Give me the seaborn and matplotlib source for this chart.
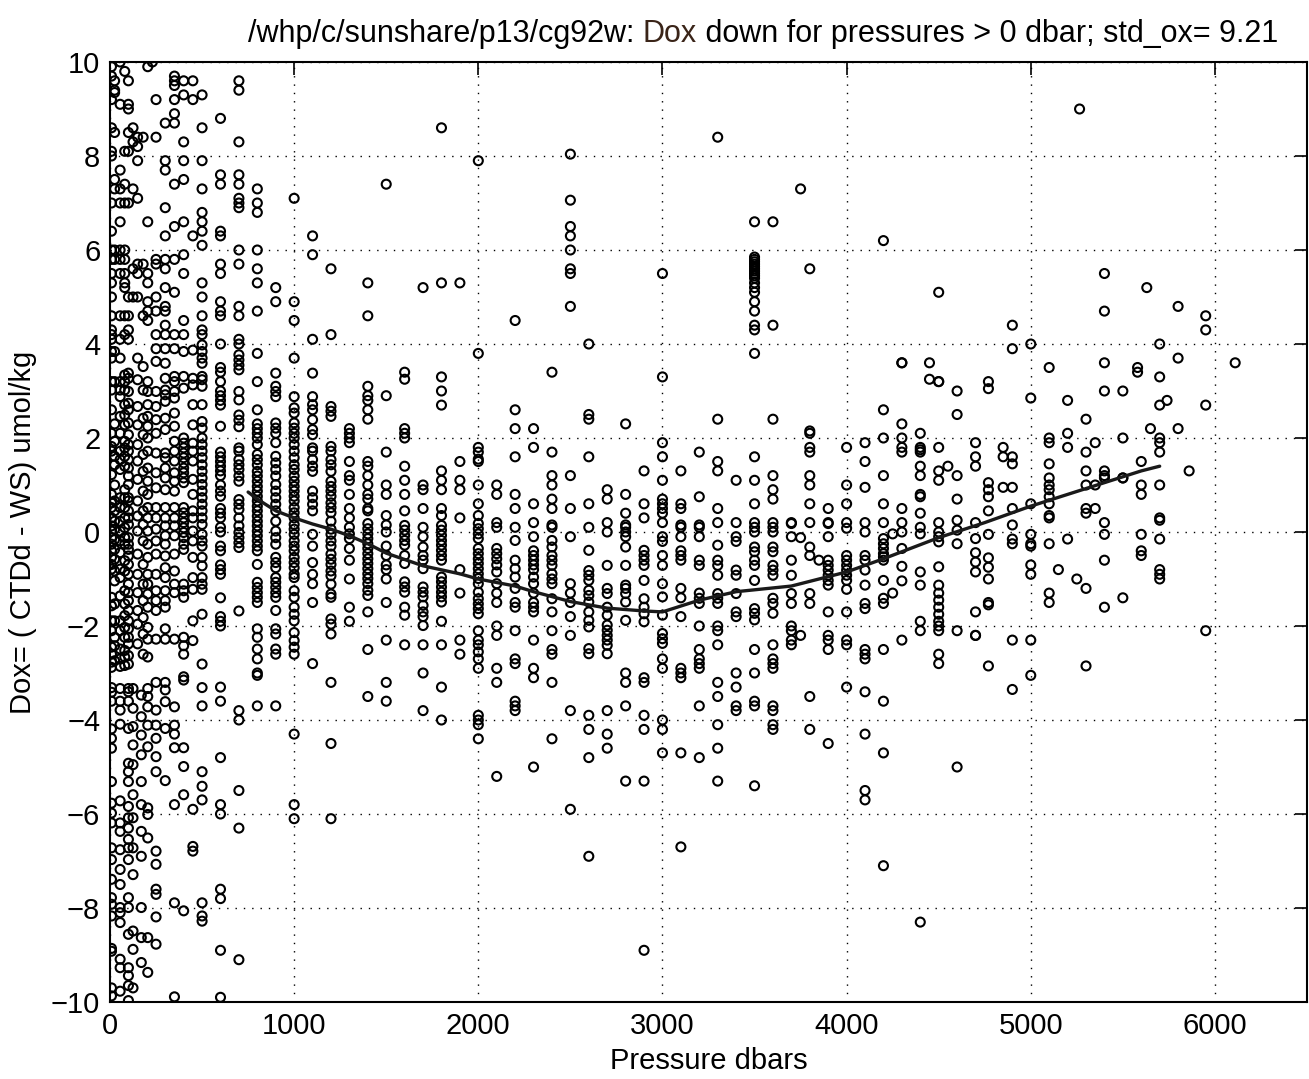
import numpy as np
import pandas as pd
import matplotlib
matplotlib.use("Agg")
import matplotlib.pyplot as plt
import seaborn as sns

# ---------------- data ----------------
dox_p8 = [9.9, 9.7, 9.2, 8.6, 8.1, 8.0, 7.0, 6.4, 6.0, 5.8, 5.5, 5.3, 5.0, 4.6, 4.3, 4.2, 4.1, 3.84, 3.7, 3.2, 3.02, 2.6, 2.1, 1.82, 1.72, 1.22, 0.8, 0.62, 0.52, 0.3, 0.13, 0.02, -0.12, -0.26, -0.4, -0.54, -0.69, -0.79, -1.39, -1.57, -1.89, -2.1, -2.45, -2.6, -2.77, -2.88, -3.31, -3.41, -3.6, -4.19, -4.39, -4.6, -5.31, -5.77, -5.98, -6.19, -6.72, -6.97, -7.39, -7.78, -7.92, -8.17, -8.86, -8.92, -9.7, -9.87]
dox_p25 = [9.6, 9.4, 9.35, 8.5, 7.5, 7.3, 6.0, 5.8, 3.84, 3.2, 2.3, 1.93, 1.61, 1.43, 1.0, 0.66, 0.45, 0.23, 0.06, -0.16, -0.37, -0.58, -0.83, -1.04, -1.53, -1.89, -2.24, -2.42, -2.74]
dox_p55 = [10.0, 9.1, 7.7, 7.3, 7.0, 6.6, 6.0, 5.8, 5.5, 4.6, 4.1, 3.7, 3.2, 3.02, 2.88, 2.46, 2.1, 1.72, 1.54, 1.33, 0.73, 0.52, 0.23, 0.02, -0.19, -0.44, -0.79, -0.97, -1.36, -1.89, -2.1, -2.49, -2.7, -2.86, -3.33, -3.6, -3.79, -4.09, -5.72, -6.19, -6.37, -6.76, -7.18, -7.5, -7.99, -8.1, -8.31, -9.09, -9.27, -9.77]
dox_p80 = [9.8, 8.1, 7.4, 7.0, 6.0, 5.8, 5.5, 5.3, 5.2, 4.6, 4.2, 3.34, 3.2, 3.02, 2.71, 2.49, 2.28, 1.93, 1.79, 1.61, 1.4, 0.9, 0.73, 0.52, 0.3, 0.09, -0.12, -0.26, -0.61, -0.83, -1.25, -1.53, -1.78, -2.03, -2.24, -2.52, -2.66, -2.84]
dox_p100 = [9.6, 9.1, 9.0, 8.5, 8.1, 7.0, 5.0, 4.6, 4.3, 4.1, 3.38, 3.27, 2.99, 2.74, 2.6, 2.32, 2.07, 1.86, 1.72, 1.54, 1.36, 1.19, 1.01, 0.73, 0.66, 0.45, 0.3, 0.16, -0.12, -0.26, -0.37, -0.51, -0.69, -0.9, -1.11, -1.29, -1.46, -1.67, -1.89, -2.06, -2.24, -2.38, -2.63, -2.81, -3.33, -3.4, -3.6, -4.18, -4.92, -5.1, -5.31, -5.84, -6.08, -6.3, -6.54, -6.72, -6.97, -7.78, -7.99, -8.56, -9.27, -9.44, -9.65, -9.97]
dox_p125 = [8.6, 8.3, 7.3, 5.6, 5.0, -3.33, -3.75, -4.14, -4.53, -4.95, -5.59, -6.08, -6.72, -7.29, -8.49, -8.88, -9.7]
dox_p150 = [8.4, 8.2, 7.9, 7.1, 5.7, 5.5, 5.0, 3.7, 3.24, 2.67, 2.28, 1.86, 1.51, 1.12, 0.66, 0.34, 0.02, -0.47, -0.9, -1.29, -1.67, -1.96, -2.38]
dox_p170 = [-3.47, -3.93, -4.32, -4.74, -5.31, -5.8, -6.37, -6.9, -7.99, -8.63, -9.16]
dox_p180 = [8.4, 5.7, 4.6, 3.52, 3.02, 2.42, 2.07, 1.65, 1.29, 0.87, 0.45, 0.16, -0.19, -0.69, -1.11, -1.46, -1.82, -2.17, -2.6]
dox_p205 = [9.9, 6.6, 5.5, 5.3, 4.9, 4.7, 4.5, 3.2, 2.99, 2.71, 2.46, 2.25, 2.0, 1.72, 1.36, 1.08, 0.8, 0.52, 0.3, 0.02, -0.26, -0.54, -0.9, -1.11, -1.32, -1.6, -2.03, -2.28, -2.66, -3.33, -3.5, -3.72, -4.11, -4.57, -5.87, -6.01, -6.51, -8.63, -9.37]
dox_p230 = [10.0]
dox_p250 = [9.2, 8.4, 5.8, 5.7, 5.0, 4.7, 4.2, 3.9, 3.63, 2.99, 2.67, 2.39, 2.1, 1.68, 1.26, 0.94, 0.52, 0.3, 0.06, -0.19, -0.47, -0.9, -1.25, -1.46, -1.67, -2.28, -3.2, -3.79, -4.11, -4.39, -4.78, -5.1, -6.79, -7.07, -7.6, -7.71, -8.19, -8.77]
dox_p300 = [8.7, 7.9, 7.7, 6.9, 6.3, 5.8, 5.6, 5.2, 4.8, 4.7, 4.4, 4.2, 3.9, 3.59, 3.27, 3.02, 2.92, 2.78, 2.42, 2.18, 1.68, 1.58, 1.36, 1.15, 0.9, 0.52, 0.3, 0.13, -0.08, -0.26, -0.51, -0.76, -0.97, -1.25, -1.46, -1.6, -2.06, -2.28, -3.2, -3.36, -3.61, -4.18, -5.29]
dox_p350 = [9.7, 9.6, 9.5, 9.2, 8.9, 8.7, 7.4, 6.5, 5.8, 5.1, 4.2, 3.9, 3.31, 3.2, 2.99, 2.85, 2.53, 2.25, 1.93, 1.72, 1.51, 1.26, 1.08, 0.87, 0.52, 0.3, 0.13, -0.08, -0.47, -0.83, -1.11, -1.29, -2.28, -3.72, -4.11, -4.3, -4.59, -5.8, -7.89, -9.89]
dox_p400 = [9.6, 9.3, 8.3, 7.9, 7.5, 6.6, 5.9, 5.5, 4.5, 4.2, 3.84, 3.31, 3.06, 2.0, 1.89, 1.79, 1.68, 1.58, 1.47, 1.36, 1.26, 1.15, 1.05, 0.52, 0.41, 0.3, 0.2, 0.09, -0.01, -0.12, -0.26, -0.37, -1.11, -1.25, -1.39, -2.24, -2.42, -2.6, -3.08, -3.15, -4.59, -4.99, -5.59, -8.06]
dox_p450 = [9.6, 9.2, 6.3, 3.87, 3.27, 3.13, 2.71, 2.28, 1.89, 1.72, 1.51, 1.12, 0.8, 0.45, 0.3, 0.02, -0.19, -0.54, -0.97, -1.22, -1.89, -2.31, -5.9, -6.69, -6.79]
dox_p500 = [9.3, 8.6, 7.9, 7.3, 6.8, 6.6, 6.4, 6.1, 5.3, 5.0, 4.6, 4.3, 4.2, 3.98, 3.84, 3.7, 3.59, 3.31, 3.24, 3.1, 2.71, 2.35, 2.21, 2.0, 1.86, 1.72, 1.58, 1.43, 1.29, 1.15, 1.01, 0.87, 0.73, 0.59, 0.45, 0.3, 0.16, -0.05, -0.19, -0.3, -0.54, -0.72, -0.97, -1.11, -1.22, -1.75, -2.81, -3.31, -3.7, -5.1, -5.41, -5.7, -7.89, -8.17, -8.28]
dox_p600 = [8.8, 7.6, 7.4, 6.4, 6.3, 5.7, 5.5, 4.9, 4.7, 4.6, 4.0, 3.5, 3.4, 3.2, 3.0, 2.9, 2.8, 2.7, 2.25, 1.7, 1.6, 1.5, 1.4, 1.3, 1.2, 1.0, 0.87, 0.76, 0.5, 0.4, 0.3, 0.1, 0.0, -0.3, -0.4, -0.7, -0.8, -0.9, -1.4, -1.8, -1.9, -2.0, -3.3, -3.6, -4.8, -5.8, -6.0, -7.6, -7.8, -8.9, -9.9]
dox_p700 = [9.6, 9.4, 8.3, 7.6, 7.4, 7.1, 7.0, 6.9, 6.0, 5.7, 4.8, 4.6, 4.1, 4.0, 3.77, 3.66, 3.55, 3.45, 2.99, 2.81, 2.49, 2.38, 2.24, 1.79, 1.72, 1.54, 1.43, 1.33, 1.19, 1.08, 0.69, 0.59, 0.48, 0.3, 0.13, -0.01, -0.12, -0.23, -0.33, -1.68, -3.8, -4.0, -5.5, -6.3, -9.1]
dox_p800 = [7.3, 7.0, 6.8, 6.0, 5.6, 5.3, 4.7, 3.8, 3.2, 2.6, 2.3, 2.2, 2.1, 2.0, 1.86, 1.65, 1.54, 1.43, 1.29, 1.19, 1.08, 0.97, 0.87, 0.76, 0.66, 0.55, 0.45, 0.34, 0.23, 0.13, 0.02, -0.08, -0.19, -0.3, -0.4, -0.69, -1.07, -1.18, -1.29, -1.39, -1.5, -2.06, -2.24, -2.49, -2.7, -3.0, -3.05, -3.7]
dox_p900 = [5.2, 4.9, 3.38, 3.1, 2.99, 2.88, 2.32, 2.21, 2.1, 1.9, 1.61, 1.47, 1.33, 1.19, 1.01, 0.87, 0.73, 0.59, 0.45, 0.23, 0.02, -0.12, -0.26, -0.54, -0.65, -0.76, -0.97, -1.07, -1.18, -1.29, -1.39, -1.67, -2.06, -2.17, -2.49, -2.6, -3.7]
dox_p1000 = [7.1, 4.9, 4.5, 3.7, 2.88, 2.64, 2.53, 2.32, 2.21, 2.1, 2.0, 1.86, 1.72, 1.58, 1.43, 1.33, 1.19, 1.08, 0.97, 0.87, 0.76, 0.66, 0.52, 0.41, 0.3, 0.16, 0.06, -0.05, -0.19, -0.3, -0.4, -0.54, -0.65, -0.76, -0.9, -0.97, -1.25, -1.39, -1.6, -1.75, -1.89, -2.14, -2.31, -2.45, -2.6, -4.3, -5.8, -6.1]
dox_p1100 = [6.3, 5.9, 4.1, 3.38, 2.88, 2.71, 2.6, 2.39, 2.18, 2.07, 1.79, 1.72, 1.54, 1.4, 1.29, 0.87, 0.73, 0.59, 0.45, -0.05, -0.3, -0.65, -0.9, -1.1, -1.5, -2.8]
dox_p1200 = [5.6, 4.2, 2.67, 2.57, 2.46, 1.82, 1.72, 1.54, 1.43, 1.29, 1.08, 0.97, 0.87, 0.76, 0.62, 0.52, 0.41, 0.23, 0.06, -0.05, -0.19, -0.3, -0.47, -0.58, -0.69, -0.83, -0.93, -1.11, -1.32, -1.39, -1.85, -1.96, -2.17, -3.2, -4.5, -6.1]
dox_p1300 = [2.2, 2.1, 2.0, 1.9, 1.5, 1.2, 1.1, 0.8, 0.5, 0.3, 0.1, -0.04, -0.14, -0.35, -0.6, -1.0, -1.6, -1.9]
dox_p1400 = [5.3, 4.6, 3.1, 2.9, 2.8, 2.6, 2.4, 1.5, 1.4, 1.2, 1.0, 0.8, 0.7, 0.5, 0.45, 0.18, 0.07, -0.04, -0.14, -0.25, -0.35, -0.46, -0.57, -0.67, -0.78, -0.89, -0.99, -1.1, -1.24, -1.35, -1.7, -2.5, -3.5]
dox_p1500 = [7.4, 2.9, 1.7, 1.0, 0.8, 0.35, 0.15, 0.0, -0.3, -0.5, -0.7, -0.8, -1.0, -1.5, -2.3, -3.2, -3.6]
dox_p1600 = [3.4, 3.25, 2.2, 2.1, 2.0, 1.4, 1.1, 0.8, 0.45, 0.14, 0.04, -0.07, -0.18, -0.28, -0.5, -0.67, -1.06, -1.17, -1.28, -1.6, -1.77, -2.4]
dox_p1700 = [5.2, 1.0, 0.9, 0.5, 0.1, -0.1, -0.32, -0.5, -0.6, -0.78, -1.17, -1.28, -1.38, -1.56, -1.7, -1.8, -1.99, -2.4, -3.0, -3.8]
dox_p1800 = [8.6, 5.3, 3.3, 3.0, 2.7, 1.3, 1.1, 0.9, 0.5, 0.35, 0.14, 0.04, -0.07, -0.18, -0.28, -0.39, -0.5, -0.6, -0.96, -1.06, -1.17, -1.28, -1.38, -1.49, -1.9, -2.4, -3.3, -4.0]
dox_p1900 = [5.3, 1.5, 1.1, 0.9, 0.3, -0.8, -1.3, -2.3, -2.6]
dox_p2000 = [7.9, 3.8, 1.8, 1.7, 1.55, 1.5, 1.0, 0.6, 0.35, 0.18, 0.07, -0.04, -0.14, -0.35, -0.46, -0.57, -0.67, -0.78, -0.89, -0.99, -1.1, -1.28, -1.42, -1.53, -1.63, -1.74, -2.1, -2.3, -2.4, -2.55, -2.7, -2.9, -3.9, -4.0, -4.1, -4.4]
dox_p2100 = [1.0, 0.8, 0.2, 0.1, -0.35, -0.46, -0.57, -0.7, -0.85, -1.1, -1.3, -1.5, -2.0, -2.2, -2.9, -3.2, -5.2]
dox_p2200 = [4.5, 2.6, 2.2, 1.6, 0.8, 0.5, 0.1, -0.18, -0.6, -0.78, -0.96, -1.2, -1.5, -1.6, -2.1, -2.7, -2.8, -3.6, -3.7, -3.8]
dox_p2300 = [2.2, 1.8, 0.6, 0.2, -0.1, -0.4, -0.5, -0.6, -0.7, -0.8, -0.96, -1.1, -1.3, -1.5, -1.6, -1.7, -2.3, -2.9, -3.1, -5.0]
dox_p2400 = [3.4, 1.7, 1.2, 1.0, 0.7, 0.5, 0.15, 0.1, -0.18, -0.32, -0.5, -0.6, -0.71, -0.89, -1.0, -1.1, -1.42, -1.7, -2.1, -2.5, -2.6, -3.2, -4.4]
dox_p2500 = [8.04, 7.06, 6.5, 6.3, 6.0, 5.6, 5.5, 4.8, 1.2, 0.5, -0.1, -1.1, -1.3, -1.5, -1.8, -2.2, -3.8, -5.9]
dox_p2600 = [4.0, 2.5, 2.4, 1.6, 0.6, 0.1, -0.39, -0.82, -0.92, -1.03, -1.24, -1.35, -1.49, -1.7, -1.88, -2.02, -2.48, -2.59, -3.9, -4.2, -4.8, -6.9]
dox_p2700 = [0.9, 0.7, 0.2, 0.0, -0.71, -1.2, -1.31, -1.6, -1.77, -1.98, -2.09, -2.2, -2.3, -2.41, -2.59, -3.8, -4.3, -4.6]
dox_p2800 = [2.3, 0.8, 0.4, 0.15, 0.1, 0.0, -0.1, -0.32, -0.71, -1.13, -1.2, -1.31, -1.49, -1.88, -3.0, -3.2, -3.7, -5.3]
dox_p2900 = [1.3, 0.6, 0.3, -0.39, -0.5, -0.6, -0.71, -1.03, -1.42, -1.6, -1.74, -1.91, -3.1, -3.2, -3.9, -4.2, -5.3, -8.9]
dox_p3000 = [5.5, 3.3, 1.9, 1.6, 1.1, 0.7, 0.6, 0.5, 0.4, 0.2, -0.1, -0.2, -0.5, -0.71, -1.1, -1.38, -1.77, -2.16, -2.27, -2.37, -2.7, -2.9, -4.0, -4.2, -4.7]
dox_p3100 = [1.3, 0.6, 0.5, 0.15, 0.1, -0.1, -0.4, -0.5, -0.6, -1.2, -1.4, -1.8, -2.9, -3.0, -3.1, -4.7, -6.7]
dox_p3200 = [1.7, 0.75, 0.15, 0.1, -0.1, -0.6, -0.71, -1.3, -1.41, -1.52, -2.0, -2.5, -2.7, -2.8, -2.9, -3.7, -4.8]
dox_p3300 = [8.4, 2.4, 1.5, 1.3, 0.5, 0.2, -0.28, -0.6, -0.71, -0.92, -1.31, -1.41, -1.52, -2.0, -2.1, -2.4, -3.2, -3.5, -4.1, -4.6, -5.3]
dox_p3400 = [1.1, 0.2, -0.1, -0.2, -0.81, -0.92, -1.31, -1.7, -1.8, -3.0, -3.3, -3.7, -3.8]
dox_p3500 = [6.6, 5.85, 5.8, 5.75, 5.7, 5.65, 5.6, 5.55, 5.5, 5.45, 5.4, 5.3, 5.2, 5.1, 4.9, 4.7, 4.4, 4.3, 3.8, 1.6, 1.1, 0.6, 0.2, 0.1, 0.0, -0.32, -0.42, -0.6, -0.71, -1.03, -1.63, -1.73, -1.87, -2.5, -3.0, -3.6, -3.7, -5.4]
dox_p3600 = [6.6, 4.4, 2.4, 1.2, 0.9, 0.7, 0.2, 0.1, 0.0, -0.32, -0.42, -0.71, -0.81, -0.92, -1.41, -1.52, -1.73, -2.4, -2.7, -2.8, -2.9, -3.7, -3.8, -4.1, -4.2]
dox_p3700 = [0.2, 0.18, -0.1, -0.6, -0.92, -1.31, -1.52, -2.0, -2.1, -2.3, -2.4]
dox_p3750 = [7.3, -0.12, -2.2]
dox_p3800 = [5.6, 2.15, 2.1, 1.8, 1.7, 1.2, 1.0, 0.6, 0.2, -0.32, -0.5, -1.31, -1.52, -3.5, -4.2]
dox_p3850 = [-0.6]
dox_p3900 = [0.5, 0.2, 0.18, -0.1, -0.6, -0.71, -0.81, -0.92, -1.03, -1.13, -1.7, -2.2, -2.3, -2.5, -4.5]
dox_p4000 = [1.8, 1.0, 0.6, 0.2, 0.08, -0.5, -0.6, -0.71, -0.81, -0.92, -1.03, -1.22, -1.7, -2.3, -2.4, -3.3]
dox_p4100 = [1.9, 1.5, 0.95, 0.2, 0.0, -0.5, -0.6, -0.81, -1.13, -1.52, -1.63, -2.5, -2.6, -2.7, -3.4, -4.3, -5.5, -5.7]
dox_p4200 = [6.2, 2.6, 2.0, 1.2, 0.6, 0.2, -0.14, -0.25, -0.35, -0.46, -0.53, -0.6, -1.03, -1.41, -1.52, -2.5, -3.6, -4.7, -7.1]
dox_p4250 = [-0.04, -1.3]
dox_p4300 = [3.6, 3.6, 2.3, 2.0, 1.8, 1.7, 0.5, 0.2, 0.0, -0.35, -0.73, -1.04, -2.3]
dox_p4400 = [2.1, 1.8, 1.75, 1.7, 1.4, 1.2, 0.8, 0.75, 0.4, 0.1, -0.04, -0.85, -1.13, -1.9, -2.1, -8.3]
dox_p4450 = [3.6, 3.25]
dox_p4500 = [5.1, 3.2, 3.2, 1.8, 1.3, 1.1, 0.2, 0.0, -0.1, -0.21, -0.74, -1.13, -1.3, -1.45, -1.6, -1.75, -1.9, -2.0, -2.1, -2.6, -2.8]
dox_p4550 = [1.4]
dox_p4600 = [3.0, 2.5, 1.2, 0.7, 0.25, 0.04, -0.25, -2.1, -5.0]
dox_p4700 = [1.9, 1.6, 1.4, 0.2, -0.14, -0.44, -0.64, -0.85, -1.7, -2.2, -2.2]
dox_p4770 = [3.05, 3.2, 1.05, 0.9, 0.75, 0.45, -0.05, -0.55, -0.75, -1.0, -1.5, -1.55, -2.85]
dox_p4850 = [1.8, 1.6, 0.95]
dox_p4900 = [3.9, 4.4, 1.6, 1.45, 0.95, 0.5, 0.15, -0.15, -0.25, -2.3, -3.35]
dox_p5000 = [4.0, 2.85, 0.6, -0.05, -0.25, -0.3, -0.7, -0.9, -2.3, -3.05]
dox_p5100 = [3.5, 2.0, 1.9, 1.45, 1.15, 1.0, 0.9, 0.75, 0.6, 0.35, 0.3, -0.25, -1.3, -1.5]
dox_p5150 = [-0.8]
dox_p5200 = [2.8, 2.1, 1.8, -0.15]
dox_p5250 = [-1.0]
dox_p5265 = [9.0]
dox_p5300 = [2.4, 1.7, 1.3, 1.0, 0.5, 0.4, -1.2, -2.85]
dox_p5350 = [1.9, 1.0, 0.5]
dox_p5400 = [5.5, 4.7, 3.6, 3.0, 1.3, 1.2, 1.15, 0.2, -0.05, -0.6, -1.6]
dox_p5500 = [3.0, 2.0, 1.15, 1.15, -1.4]
dox_p5580 = [3.5, 3.4]
dox_p5600 = [1.5, 1.0, 0.8, -0.05, -0.4, -0.5]
dox_p5630 = [5.2]
dox_p5650 = [2.2]
dox_p5700 = [4.0, 3.3, 2.7, 2.0, 1.9, 1.7, 1.0, 0.3, 0.25, -0.15, -0.8, -0.9, -1.0]
dox_p5740 = [2.8]
dox_p5800 = [4.8, 3.7, 2.2]
dox_p5860 = [1.3]
dox_p5950 = [4.6, 4.3, 2.7, -2.1]
dox_p6110 = [3.6]

# smoothed mean curve drawn through the scatter
trend_p = [750, 800, 900, 1000, 1100, 1200, 1300, 1400, 1500, 1700, 1900, 2000, 2200, 2300, 2500, 2700, 2900, 3000, 3200, 3400, 3700, 3900, 4000, 4200, 4500, 4750, 5000, 5200, 5400, 5600, 5700]
trend_dox = [0.85, 0.7, 0.45, 0.3, 0.17, 0.06, -0.08, -0.25, -0.45, -0.72, -0.89, -1.0, -1.15, -1.27, -1.48, -1.62, -1.68, -1.70, -1.45, -1.27, -1.15, -0.95, -0.85, -0.57, -0.12, 0.2, 0.55, 0.8, 1.05, 1.3, 1.4]

xticks = [0, 1000, 2000, 3000, 4000, 5000, 6000]
yticks = [-10, -8, -6, -4, -2, 0, 2, 4, 6, 8, 10]
title_parts = ["/whp/c/sunshare/p13/cg92w: ", "Dox", " down for pressures > 0 dbar; std_ox= 9.21"]
title_colors = ["black", "#3a2418", "black"]
xlabel = "Pressure dbars"
ylabel = "Dox= ( CTDd - WS) umol/kg"

columns = [
    (8, dox_p8), (25, dox_p25), (55, dox_p55), (80, dox_p80), (100, dox_p100),
    (125, dox_p125), (150, dox_p150), (170, dox_p170), (180, dox_p180), (205, dox_p205),
    (230, dox_p230), (250, dox_p250), (300, dox_p300), (350, dox_p350), (400, dox_p400),
    (450, dox_p450), (500, dox_p500), (600, dox_p600), (700, dox_p700), (800, dox_p800),
    (900, dox_p900), (1000, dox_p1000), (1100, dox_p1100), (1200, dox_p1200), (1300, dox_p1300),
    (1400, dox_p1400), (1500, dox_p1500), (1600, dox_p1600), (1700, dox_p1700), (1800, dox_p1800),
    (1900, dox_p1900), (2000, dox_p2000), (2100, dox_p2100), (2200, dox_p2200), (2300, dox_p2300),
    (2400, dox_p2400), (2500, dox_p2500), (2600, dox_p2600), (2700, dox_p2700), (2800, dox_p2800),
    (2900, dox_p2900), (3000, dox_p3000), (3100, dox_p3100), (3200, dox_p3200), (3300, dox_p3300),
    (3400, dox_p3400), (3500, dox_p3500), (3600, dox_p3600), (3700, dox_p3700), (3750, dox_p3750),
    (3800, dox_p3800), (3850, dox_p3850), (3900, dox_p3900), (4000, dox_p4000), (4100, dox_p4100),
    (4200, dox_p4200), (4250, dox_p4250), (4300, dox_p4300), (4400, dox_p4400), (4450, dox_p4450),
    (4500, dox_p4500), (4550, dox_p4550), (4600, dox_p4600), (4700, dox_p4700), (4770, dox_p4770),
    (4850, dox_p4850), (4900, dox_p4900), (5000, dox_p5000), (5100, dox_p5100), (5150, dox_p5150),
    (5200, dox_p5200), (5250, dox_p5250), (5265, dox_p5265), (5300, dox_p5300), (5350, dox_p5350),
    (5400, dox_p5400), (5500, dox_p5500), (5580, dox_p5580), (5600, dox_p5600), (5630, dox_p5630),
    (5650, dox_p5650), (5700, dox_p5700), (5740, dox_p5740), (5800, dox_p5800), (5860, dox_p5860),
    (5950, dox_p5950), (6110, dox_p6110),
]
pres = []
dox = []
for p, vals in columns:
    pres.extend([p] * len(vals))
    dox.extend(vals)
df = pd.DataFrame({"pressure": pres, "dox": dox})
trend = pd.DataFrame({"pressure": trend_p, "dox": trend_dox})

# ---------------- plotting ----------------
sns.set_style("white")
plt.rcParams["font.family"] = ["Liberation Sans", "DejaVu Sans"]
plt.rcParams["text.color"] = "black"
plt.rcParams["axes.labelcolor"] = "black"
plt.rcParams["xtick.color"] = "black"
plt.rcParams["ytick.color"] = "black"

W, H = 1309, 1079
fig = plt.figure(figsize=(W / 100, H / 100), dpi=100)
ax = fig.add_axes([110 / W, 1 - 1002 / H, 1197 / W, 940 / H])

sns.scatterplot(data=df, x="pressure", y="dox", ax=ax, marker="o", s=42,
                facecolor="none", edgecolor="black", linewidth=1.5, zorder=3)
sns.lineplot(data=trend, x="pressure", y="dox", ax=ax, color="#1a1a1a",
             linewidth=2.4, zorder=4, sort=True, estimator=None)

ax.set_xlim(0, 6500)
ax.set_ylim(-10, 10)
ax.set_xticks(xticks)
ax.set_yticks(yticks)
ax.grid(True, linestyle=(0, (1, 5)), color="black", linewidth=1.0)
ax.tick_params(direction="in", length=9, width=1.2, top=True, right=True,
               labelsize=21, pad=7, colors="black", labelcolor="black")
for sp in ax.spines.values():
    sp.set_linewidth(1.5)
    sp.set_color("black")
ax.set_xlabel(xlabel, fontsize=21, labelpad=5, color="black")
ax.set_ylabel(ylabel, fontsize=21, labelpad=10, color="black")

# title with a differently coloured word
fig.canvas.draw()
renderer = fig.canvas.get_renderer()
x0 = 248 / W
ty = 1 - 42 / H
for part, col in zip(title_parts, title_colors):
    t = fig.text(x0, ty, part, fontsize=22, color=col, ha="left", va="baseline")
    bb = t.get_window_extent(renderer=renderer)
    x0 = bb.x1 / W

fig.savefig("out.png", dpi=100)
